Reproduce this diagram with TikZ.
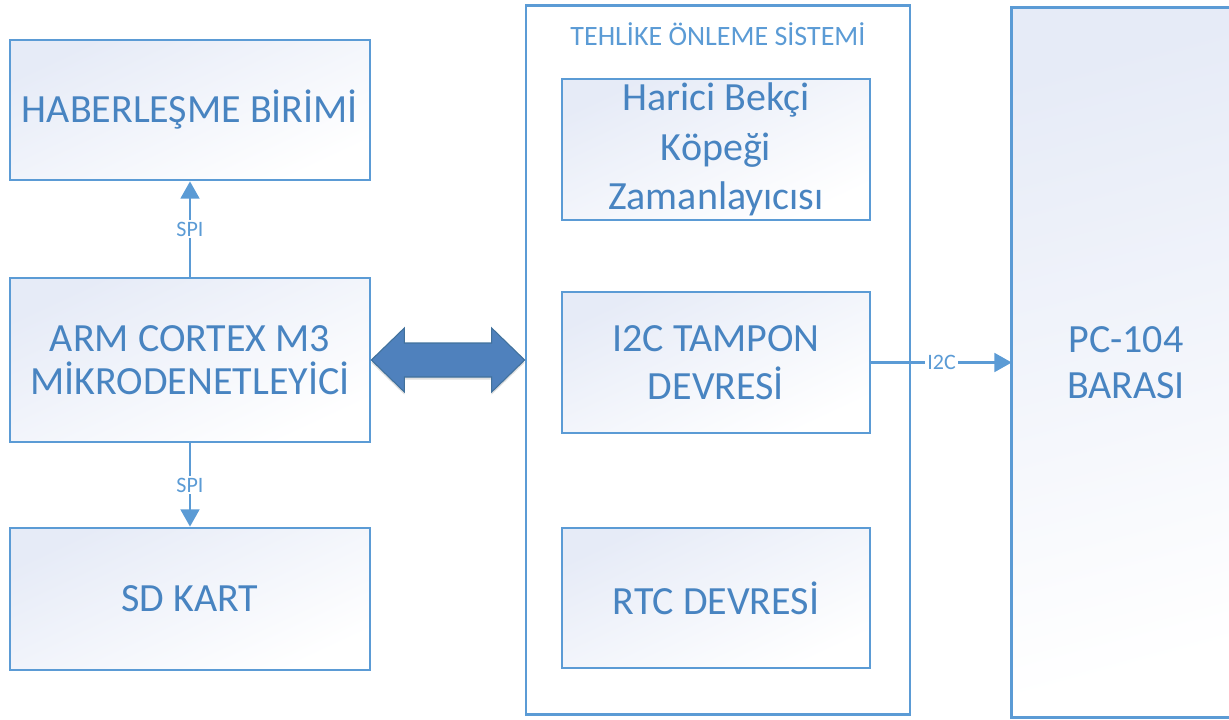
\documentclass[tikz,border=0pt]{standalone}
\usepackage{fontspec}
\setmainfont{Carlito}
\usetikzlibrary{arrows.meta,calc,shadows}
\definecolor{lineblue}{RGB}{91,155,213}
\definecolor{textblue}{RGB}{72,132,193}
\definecolor{shadetop}{RGB}{230,235,247}
\definecolor{arrowfill}{RGB}{79,129,189}
\definecolor{arrowline}{RGB}{65,113,156}
\begin{document}
\begin{tikzpicture}[x=0.75pt,y=-0.75pt,
  box/.style={draw=lineblue, line width=2pt, top color=shadetop, bottom color=white, shading angle=25,
    text=textblue, align=center, inner sep=0pt, font=\fontsize{30}{36}\selectfont},
  frame/.style={draw=lineblue, line width=2pt, fill=white, inner sep=0pt},
  conn/.style={draw=lineblue, line width=2.2pt, -{Triangle[length=13pt,width=14pt]}},
  lbl/.style={fill=white, text=lineblue, inner sep=1.5pt, font=\fontsize{16.5}{18}\selectfont},
  ttl/.style={text=lineblue, font=\fontsize{21}{24}\selectfont},
  bigarrow/.style={fill=arrowfill, draw=arrowline, line width=0.8pt, line join=miter,
    drop shadow={opacity=0.25, shadow xshift=0pt, shadow yshift=-2pt}}]
\useasboundingbox (0,0) rectangle (1229,719);
% left column
\node[box, minimum width=270pt, minimum height=105pt] (hab) at (190,110) {\raisebox{-2pt}{HABERLEŞME BİRİMİ}};
\node[box, minimum width=270pt, minimum height=123pt, font=\fontsize{30}{32}\selectfont] (arm) at (190,360) {ARM CORTEX M3\\MİKRODENETLEYİCİ};
\node[box, minimum width=270pt, minimum height=106.5pt] (sd) at (190,599) {SD KART};
% container
\node[frame, minimum width=288pt, minimum height=531.75pt] (cont) at (718,360) {};
\node[ttl] (title) at (718,34) {TEHLİKE ÖNLEME SİSTEMİ};
\node[box, minimum width=231pt, minimum height=105.75pt, font=\fontsize{30}{37}\selectfont] (wdt) at (716,149.5) {Harici Bekçi\\Köpeği\\Zamanlayıcısı};
\node[box, minimum width=231pt, minimum height=105.75pt, font=\fontsize{30}{36}\selectfont] (i2cb) at (716,362.5) {I2C TAMPON\\DEVRESİ};
\node[box, minimum width=231pt, minimum height=105pt] (rtc) at (716,598) {RTC DEVRESİ};
% PC-104 bus (runs off the right edge)
\begin{scope}
  \clip (0,0) rectangle (1229,719);
  \node[top color=shadetop, middle color=white, bottom color=white, shading angle=15, text=textblue, align=center,
    inner sep=0pt, font=\fontsize{30}{35}\selectfont, minimum width=171pt, minimum height=531.75pt] (pc) at (1126,362.5) {PC-104\\BARASI};
  \draw[lineblue, line width=2pt] (pc.north east) -- (pc.north west) -- (pc.south west) -- (pc.south east);
\end{scope}
% connectors
\draw[conn] (arm.north) -- node[lbl] {SPI} (hab.south);
\draw[conn] (arm.south) -- node[lbl] {SPI} (sd.north);
\draw[conn] (i2cb.east) -- node[lbl] {I2C} (pc.west |- i2cb.east);
% big double arrow
\draw[bigarrow] (arm.east) -- ++(33,-32) -- ++(0,15) -- ($(cont.west)+(-33,-17)$) -- ++(0,-15)
  -- (cont.west) -- ++(-33,32) -- ++(0,-15) -- ($(arm.east)+(33,17)$) -- ++(0,15) -- cycle;
\end{tikzpicture}
\end{document}
